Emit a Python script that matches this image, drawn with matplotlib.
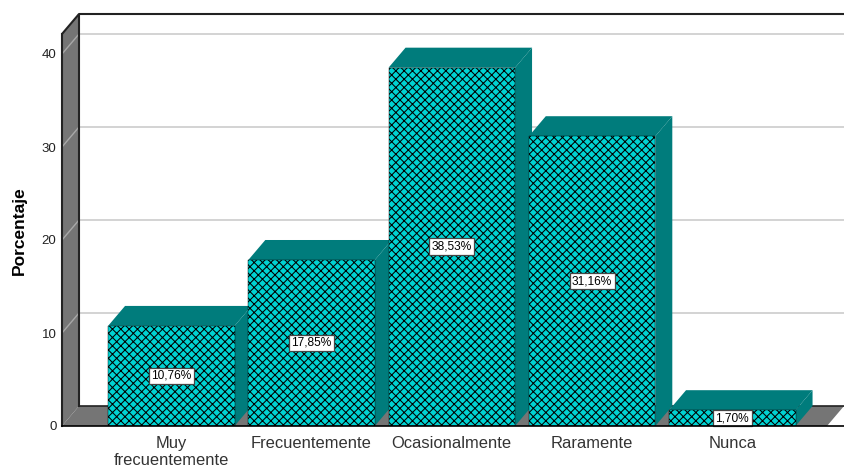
import matplotlib
matplotlib.use("Agg")
import matplotlib.pyplot as plt
import numpy as np

categories = ["Muy\nfrecuentemente", "Frecuentemente", "Ocasionalmente", "Raramente", "Nunca"]
values = [10.76, 17.85, 38.53, 31.16, 1.70]
value_labels = ["10,76%", "17,85%", "38,53%", "31,16%", "1,70%"]
y_ticks = [0, 10, 20, 30, 40]

plt.rcParams["font.family"] = ["Liberation Sans", "DejaVu Sans"]
plt.rcParams["hatch.linewidth"] = 0.75

W, H = 844, 468
L, R, B, T = 62, 844, 426, 14
PX_Y = 9.3       # px per percentage unit
PX_X = 140.25    # px per category
X0 = 171.3       # px centre of first category
DX_PX, DY_PX = 17, 20
dx, dy = DX_PX / PX_X, DY_PX / PX_Y
bw = 126.5 / PX_X

fig = plt.figure(figsize=(W / 100, H / 100), dpi=100, facecolor="white")
ax = fig.add_axes([L / W, 1 - B / H, (R - L) / W, (B - T) / H])
ax.set_xlim((L - X0) / PX_X, (R - X0) / PX_X)
ax.set_ylim(0, (B - T) / PX_Y)
xl, xr = ax.get_xlim()
ytop = ax.get_ylim()[1]
ywall = ytop - dy

WALL = "#757575"
EDGE = "#222222"
# left wall and floor
ax.fill([xl, xl + dx, xl + dx, xl], [0, dy, ytop, ywall], color=WALL, lw=0, zorder=1)
ax.fill([xl, xl + dx, xr, xr - dx], [0, dy, dy, 0], color=WALL, lw=0, zorder=1)
ax.plot([xl, xl + dx, xr], [ywall, ytop, ytop], color=EDGE, lw=1.5, zorder=3, clip_on=False,
        solid_capstyle="butt")
ax.plot([xl + dx, xl + dx], [dy, ytop], color=EDGE, lw=1.5, zorder=3)
ax.plot([xl + dx, xr], [dy, dy], color=EDGE, lw=1.2, zorder=3)

# gridlines
for t in y_ticks[1:]:
    ax.plot([xl, xl + dx], [t, t + dy], color="#a8a8a8", lw=1.0, zorder=2)
    ax.plot([xl + dx, xr], [t + dy, t + dy], color="#c8c8c8", lw=1.1, zorder=2)

# bars
FRONT = "#00d2d2"
SIDE = "#007c7c"
for i, v in enumerate(values):
    z = 5 + i
    l, r = i - bw / 2, i + bw / 2
    ax.fill([r, r + dx, r + dx, r], [0, dy, v + dy, v], color=SIDE, lw=0, zorder=z)
    ax.fill([l, l + dx, r + dx, r], [v, v + dy, v + dy, v], color=SIDE, lw=0, zorder=z)
    ax.bar(i, v, width=bw, facecolor=FRONT, edgecolor="black", hatch="xxxx", lw=0.3, zorder=z)
    ax.text(i, v / 2, value_labels[i], ha="center", va="center", fontsize=8.6, color="black",
            zorder=20,
            bbox=dict(boxstyle="square,pad=0.2", fc="white", ec="#444444", lw=0.9))

for s in ["top", "right"]:
    ax.spines[s].set_visible(False)
ax.spines["left"].set_bounds(0, ywall)
ax.spines["left"].set_color(EDGE)
ax.spines["left"].set_linewidth(1.5)
ax.spines["bottom"].set_color("black")
ax.spines["bottom"].set_linewidth(1.2)
ax.spines["left"].set_zorder(4)
ax.spines["bottom"].set_zorder(30)

ax.set_yticks(y_ticks)
ax.set_yticklabels([str(t) for t in y_ticks], fontsize=9.5, color="#222222")
ax.set_xticks(range(len(categories)))
ax.set_xticklabels(categories, fontsize=11.9, color="#333333", linespacing=1.12)
ax.tick_params(axis="both", length=0)
ax.tick_params(axis="y", pad=4)
ax.tick_params(axis="x", pad=7.5)
ax.patch.set_visible(False)

fig.text(19 / W, 1 - 231 / H, "Porcentaje", rotation=90, ha="center", va="center",
         fontsize=12.5, fontweight="bold", color="black")

fig.savefig("out.png", dpi=100)
